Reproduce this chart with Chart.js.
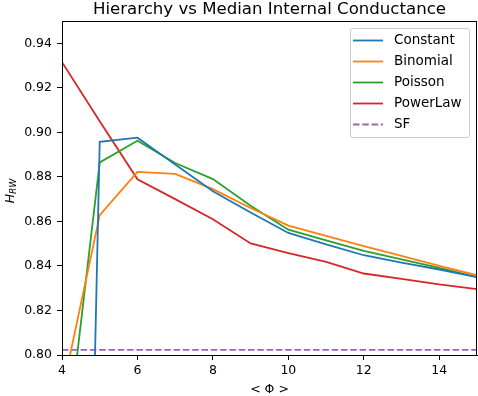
<!DOCTYPE html>
<html lang="en">
  <head>
    <meta charset="UTF-8">
    <title>Hierarchy vs Median Internal Conductance</title>
    <script src="https://cdn.jsdelivr.net/npm/chart.js"></script>
    <style>
      html, body { margin: 0; padding: 0; background: #fff; }
      canvas { display: block; }
    </style>
  </head>
  <body>
    <canvas id="hierChart" width="478" height="396"></canvas>

    <script>
      // mean degree <Phi>
      const phi = [4, 5, 6, 7, 8, 9, 10, 11, 12, 13, 14, 15];

      const constant = [0.13, 0.8957, 0.8976, 0.8856, 0.8735, 0.8640, 0.8548, 0.8497, 0.8448, 0.8415, 0.8384, 0.8350];
      const binomial = [0.783, 0.8628, 0.8822, 0.8813, 0.8745, 0.8660, 0.8581, 0.8535, 0.8489, 0.8445, 0.8400, 0.8358];
      const poisson = [0.742, 0.8865, 0.8962, 0.8862, 0.8790, 0.8670, 0.8563, 0.8515, 0.8468, 0.8430, 0.8391, 0.8350];
      const powerLaw = [0.9315, 0.9050, 0.8789, 0.8700, 0.8610, 0.8501, 0.8458, 0.8418, 0.8366, 0.8342, 0.8317, 0.8296];
      const sfValue = 0.8023;

      const xTicks = [4, 6, 8, 10, 12, 14];
      const yTicks = [0.80, 0.82, 0.84, 0.86, 0.88, 0.90, 0.92, 0.94];

      const font = "'DejaVu Sans', sans-serif";

      function pts(ys) {
        return phi.map((x, i) => ({ x: x, y: ys[i] }));
      }

      function line(label, ys, color) {
        return {
          label: label,
          data: pts(ys),
          borderColor: color,
          backgroundColor: color,
          borderWidth: 1.8,
          pointRadius: 0,
          tension: 0
        };
      }

      const sfLine = line('SF', phi.map(() => sfValue), '#9467bd');
      sfLine.borderDash = [6.5, 2.8];

      const datasets = [
        line('Constant', constant, '#1f77b4'),
        line('Binomial', binomial, '#ff7f0e'),
        line('Poisson', poisson, '#2ca02c'),
        line('PowerLaw', powerLaw, '#d62728'),
        sfLine
      ];

      // title, axis labels, frame and legend, matplotlib style
      const decor = {
        id: 'decor',
        afterDraw(chart) {
          const ctx = chart.ctx;
          const a = chart.chartArea;
          ctx.save();

          // frame
          ctx.strokeStyle = '#000';
          ctx.lineWidth = 1;
          ctx.strokeRect(a.left + 0.5, a.top + 0.5, a.right - a.left - 1, a.bottom - a.top);

          // title
          ctx.fillStyle = '#000';
          ctx.textAlign = 'center';
          ctx.textBaseline = 'alphabetic';
          ctx.font = '16.6px ' + font;
          ctx.fillText('Hierarchy vs Median Internal Conductance', (a.left + a.right) / 2, 14);

          // x title
          ctx.font = '12.5px ' + font;
          ctx.textBaseline = 'middle';
          ctx.fillText('< \u03A6 >', (a.left + a.right) / 2, 390);

          // y title H_RW
          ctx.save();
          ctx.translate(11, 191);
          ctx.rotate(-Math.PI / 2);
          ctx.textAlign = 'left';
          ctx.textBaseline = 'middle';
          ctx.font = 'italic 12.5px ' + font;
          const wH = ctx.measureText('H').width;
          ctx.font = 'italic 9px ' + font;
          const wS = ctx.measureText('RW').width;
          const x0 = -(wH + wS) / 2;
          ctx.font = 'italic 12.5px ' + font;
          ctx.fillText('H', x0, 0);
          ctx.font = 'italic 9px ' + font;
          ctx.fillText('RW', x0 + wH, 3);
          ctx.restore();

          // legend
          const lx = 350, ly = 28, lw = 119, lh = 109;
          ctx.fillStyle = 'rgba(255,255,255,0.8)';
          ctx.strokeStyle = '#cccccc';
          ctx.beginPath();
          ctx.roundRect(lx + 0.5, ly + 0.5, lw, lh, 2);
          ctx.fill();
          ctx.stroke();
          ctx.font = '13.5px ' + font;
          ctx.textAlign = 'left';
          ctx.textBaseline = 'middle';
          chart.data.datasets.forEach((ds, i) => {
            const y = 40.5 + i * 21;
            ctx.strokeStyle = ds.borderColor;
            ctx.lineWidth = ds.borderWidth;
            ctx.setLineDash(ds.borderDash || []);
            ctx.beginPath();
            ctx.moveTo(353, y);
            ctx.lineTo(383, y);
            ctx.stroke();
            ctx.setLineDash([]);
            ctx.fillStyle = '#000';
            ctx.fillText(ds.label, 394, y);
          });
          ctx.restore();
        }
      };

      const ctx = document.getElementById('hierChart').getContext('2d');
      new Chart(ctx, {
        type: 'line',
        data: { datasets: datasets },
        options: {
          responsive: false,
          animation: false,
          devicePixelRatio: 1,
          layout: { padding: { top: 21, right: 1, left: 0, bottom: 0 } },
          plugins: {
            legend: { display: false },
            title: { display: false },
            tooltip: { enabled: false }
          },
          scales: {
            x: {
              type: 'linear',
              min: 4,
              max: 15,
              afterBuildTicks: s => { s.ticks = xTicks.map(v => ({ value: v })); },
              afterFit: s => { s.height = 41; },
              grid: { drawOnChartArea: false, drawTicks: true, tickLength: 5, tickColor: '#000' },
              border: { display: true, color: '#000' },
              ticks: { color: '#000', font: { family: font, size: 12.5 }, padding: 3, maxRotation: 0 }
            },
            y: {
              type: 'linear',
              min: 0.80,
              max: 0.95,
              afterBuildTicks: s => { s.ticks = yTicks.map(v => ({ value: v })); },
              afterFit: s => { s.width = 62; },
              grid: { drawOnChartArea: false, drawTicks: true, tickLength: 5, tickColor: '#000' },
              border: { display: true, color: '#000' },
              ticks: {
                color: '#000',
                font: { family: font, size: 12.5 },
                padding: 5,
                callback: v => v.toFixed(2)
              }
            }
          }
        },
        plugins: [decor]
      });
    </script>
  </body>
</html>
